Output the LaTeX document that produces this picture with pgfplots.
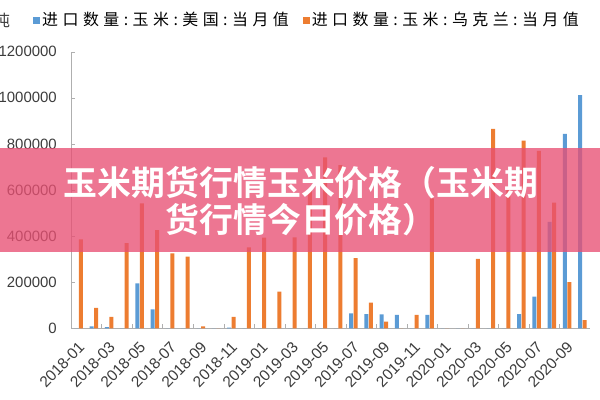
\documentclass[border=0pt]{standalone}
\usepackage{fontspec}
\setmainfont{Liberation Sans}
\newfontfamily\cjk{Noto Sans CJK SC}
\newfontfamily\cjkleg{Noto Sans CJK SC}[LetterSpace=28]
\newfontfamily\cjkbold{Noto Sans CJK SC Bold}
\usepackage{pgfplots}
\pgfplotsset{compat=1.18}

\definecolor{usblue}{RGB}{91,155,213}
\definecolor{uaorange}{RGB}{237,125,49}
\definecolor{banner}{RGB}{232,80,115}
\definecolor{axisgray}{RGB}{175,175,175}
\definecolor{labelgray}{RGB}{60,60,60}

% monthly imports, tonnes (idx 0 = 2018-01)
\pgfplotstableread{
idx us ua
0 0 386000
1 8000 89000
2 5000 50000
3 0 369000
4 195000 542000
5 82000 426000
6 0 325000
7 0 311000
8 0 8000
9 0 0
10 3000 50000
11 0 351000
12 0 393000
13 0 159000
14 0 395000
15 0 600000
16 0 742000
17 0 708000
18 65000 304000
19 61000 111000
20 60000 29000
21 58000 0
22 0 58000
23 58000 564000
24 0 0
25 0 0
26 0 301000
27 0 865000
28 0 600000
29 61000 814000
30 137000 770000
31 462000 545000
32 843000 200000
33 1012000 36000
}\imports

\begin{document}
\begin{tikzpicture}
\useasboundingbox (0,0) rectangle (600bp,400bp);
\begin{axis}[
    at={(71bp,71.7bp)}, anchor=south west,
    scale only axis, width=519bp, height=276.6bp,
    ybar=0.5bp, bar width=4bp,
    xmin=-0.5, xmax=33.5, ymin=0, ymax=1200000,
    axis x line*=bottom, axis y line*=left,
    axis line style={draw=axisgray},
    tick align=inside,
    major tick length=4bp, minor tick length=4bp,
    tick style={draw=axisgray},
    xtick={0,2,...,32},
    major x tick style={draw=none},
    minor xtick={1.5,3.5,...,31.5},
    xticklabels={2018-01,2018-03,2018-05,2018-07,2018-09,2018-11,
                 2019-01,2019-03,2019-05,2019-07,2019-09,2019-11,
                 2020-01,2020-03,2020-05,2020-07,2020-09},
    xticklabel style={font=\fontsize{15.5}{15.5}\selectfont, text=labelgray,
                      yshift=-12bp, xshift=-1bp, rotate=46, anchor=north east, inner sep=0pt},
    ytick={0,200000,...,1200000},
    scaled y ticks=false,
    yticklabel style={font=\fontsize{15}{15}\selectfont, text=labelgray,
                      anchor=east, inner sep=0pt, xshift=-14bp,
                      /pgf/number format/fixed, /pgf/number format/1000 sep={}},
    /pgf/number format/assume math mode=true,
    legend columns=2,
    legend style={at={(-0.0732,1.1146)}, anchor=west, draw=none, fill=none,
                  inner sep=0pt, font=\fontsize{16}{16}\selectfont\cjkleg,
                  /tikz/every even column/.append style={column sep=12bp}},
    legend image code/.code={\fill[#1] (0bp,-3.5bp) rectangle (7bp,3.5bp);},
]
\addplot[fill=usblue, draw=none] table[x=idx, y=us] {\imports};
\addplot[fill=uaorange, draw=none] table[x=idx, y=ua] {\imports};
\legend{进口数量:玉米:美国:当月值, 进口数量:玉米:乌克兰:当月值}
\end{axis}
\node[font=\fontsize{16}{16}\selectfont\cjk, text=labelgray] at (2bp,380bp) {吨};
\fill[banner, opacity=0.78] (0bp,148.3bp) rectangle (600bp,252.3bp);
\node[font=\fontsize{34}{34}\selectfont\cjkbold, text=white] at (301bp,217bp) {玉米期货行情玉米价格（玉米期};
\node[font=\fontsize{34}{34}\selectfont\cjkbold, text=white] at (301bp,180bp) {货行情今日价格）};
\end{tikzpicture}
\end{document}
